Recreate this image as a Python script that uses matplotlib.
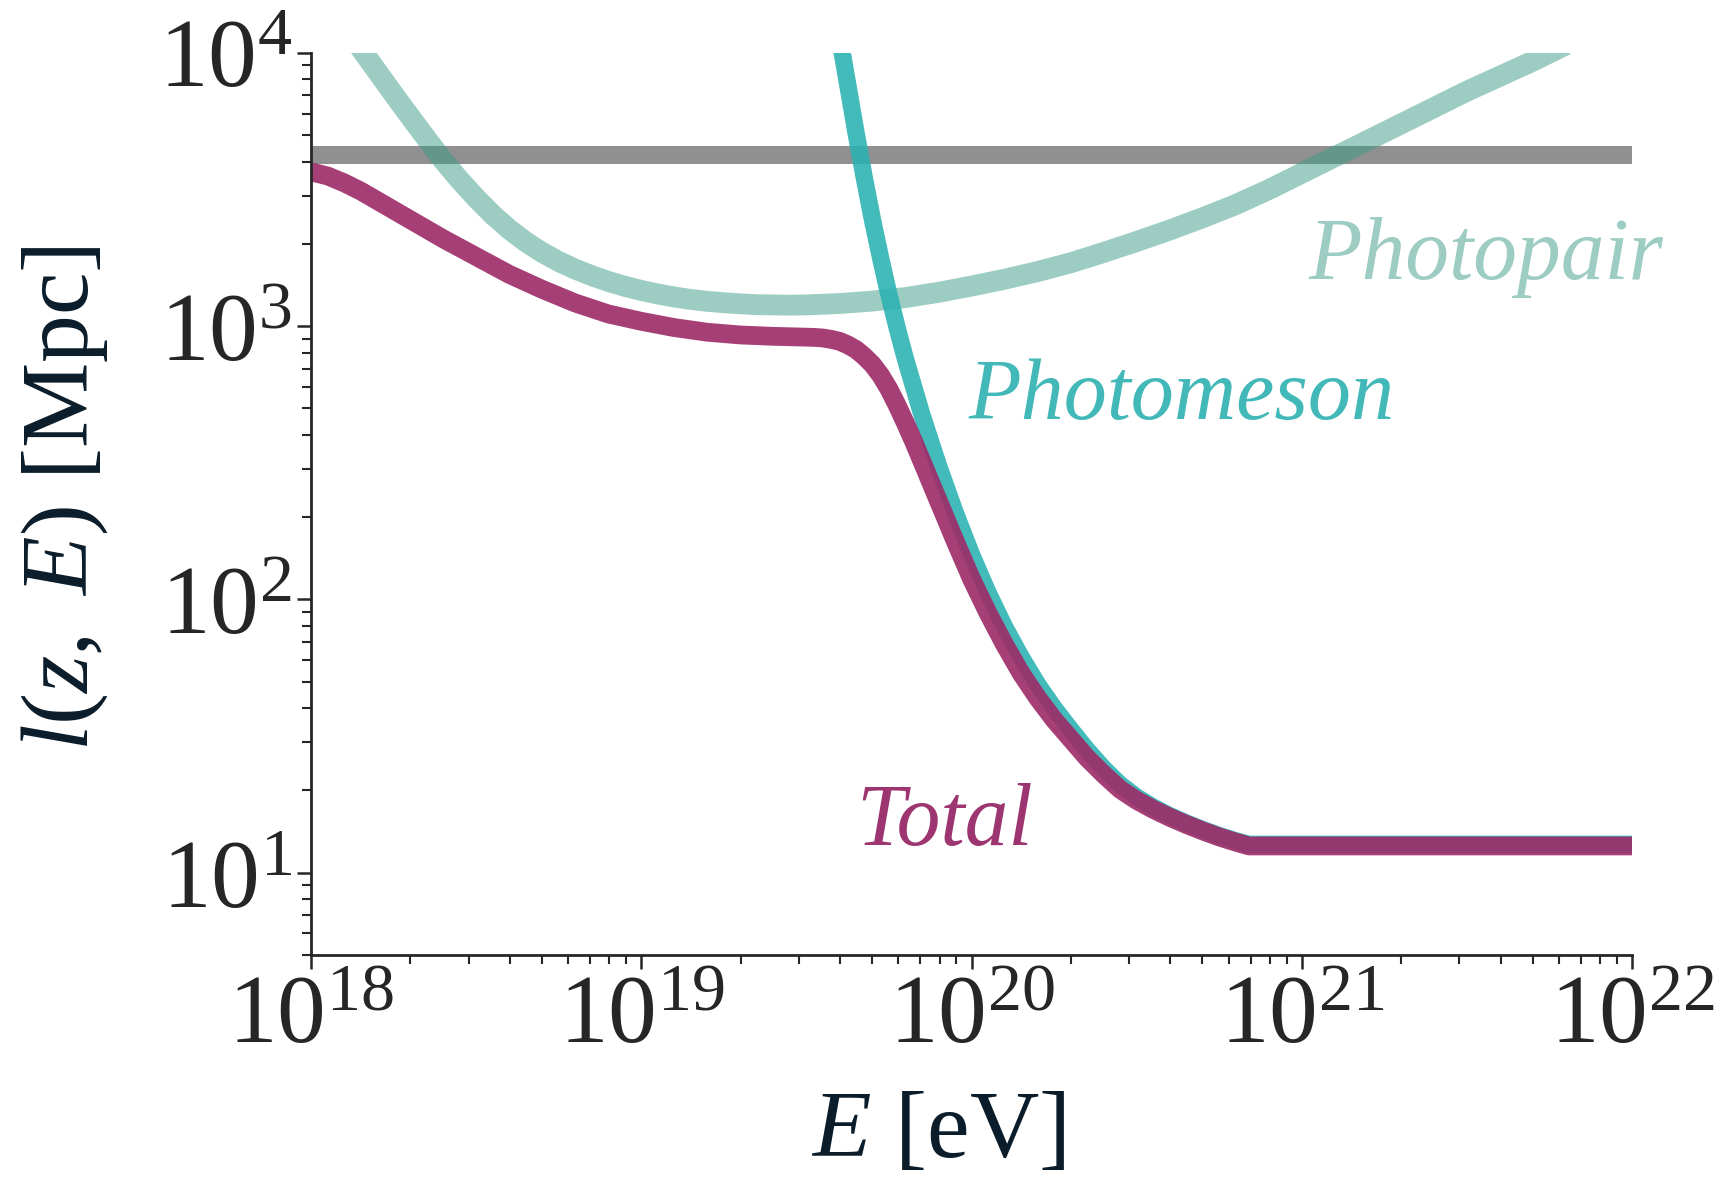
import numpy as np
import matplotlib
matplotlib.use("Agg")
import matplotlib.pyplot as plt
from matplotlib.ticker import LogLocator, NullFormatter

plt.rcParams['font.family'] = ['Liberation Serif', 'DejaVu Serif']
plt.rcParams['mathtext.fontset'] = 'custom'
plt.rcParams['mathtext.rm'] = 'Liberation Serif'
plt.rcParams['mathtext.it'] = 'Liberation Serif:italic'
plt.rcParams['mathtext.bf'] = 'Liberation Serif:bold'

# energy loss lengths, log10(E/eV) vs log10(l/Mpc)
total_logE = [18.00, 18.05, 18.10, 18.15, 18.20, 18.30, 18.40, 18.50, 18.60, 18.70,
              18.80, 18.90, 19.00, 19.10, 19.20, 19.30, 19.40, 19.50, 19.525, 19.55,
              19.575, 19.60, 19.625, 19.65, 19.675, 19.70, 19.725, 19.75, 19.775, 19.80,
              19.825, 19.85, 19.90, 19.95, 20.00, 20.05, 20.10, 20.15, 20.20, 20.25,
              20.30, 20.35, 20.40, 20.45, 20.50, 20.55, 20.60, 20.65, 20.70, 20.75,
              20.80, 20.84, 22.00]
total_logl = [3.565, 3.55, 3.525, 3.495, 3.46, 3.39, 3.32, 3.255, 3.19, 3.135,
              3.085, 3.045, 3.018, 2.995, 2.978, 2.968, 2.963, 2.960, 2.959, 2.957,
              2.952, 2.945, 2.932, 2.915, 2.89, 2.86, 2.82, 2.77, 2.71, 2.645,
              2.577, 2.505, 2.36, 2.215, 2.075, 1.95, 1.835, 1.73, 1.64, 1.56,
              1.49, 1.42, 1.36, 1.305, 1.265, 1.232, 1.203, 1.177, 1.153, 1.131,
              1.112, 1.098, 1.098]

meson_logE = [19.58, 19.60, 19.625, 19.65, 19.675, 19.70, 19.725, 19.75, 19.775, 19.80,
              19.85, 19.90, 19.95, 20.00, 20.05, 20.10, 20.15, 20.20, 20.25, 20.30,
              20.35, 20.40, 20.45, 20.50, 20.55, 20.60, 20.65, 20.70, 20.75, 20.80,
              20.84, 22.00]
meson_logl = [4.20, 4.06, 3.885, 3.71, 3.545, 3.39, 3.248, 3.115, 2.993, 2.88,
              2.675, 2.49, 2.32, 2.165, 2.025, 1.90, 1.79, 1.69, 1.603, 1.525,
              1.45, 1.382, 1.323, 1.277, 1.24, 1.209, 1.182, 1.158, 1.136, 1.117,
              1.104, 1.104]

pair_logE = [18.10, 18.15, 18.20, 18.25, 18.30, 18.35, 18.40, 18.45, 18.50, 18.55,
             18.60, 18.65, 18.70, 18.75, 18.80, 18.85, 18.90, 18.95, 19.00, 19.05,
             19.10, 19.15, 19.20, 19.25, 19.30, 19.35, 19.40, 19.45, 19.50, 19.60,
             19.70, 19.80, 19.90, 20.00, 20.10, 20.20, 20.30, 20.40, 20.50, 20.60,
             20.70, 20.80, 20.90, 21.00, 21.10, 21.20, 21.30, 21.40, 21.50, 21.60,
             21.70, 21.80]
pair_logl = [4.10, 4.017, 3.933, 3.849, 3.767, 3.686, 3.607, 3.535, 3.469, 3.408,
             3.355, 3.309, 3.270, 3.237, 3.209, 3.185, 3.164, 3.146, 3.131, 3.118,
             3.107, 3.098, 3.091, 3.086, 3.082, 3.079, 3.078, 3.077, 3.078, 3.083,
             3.092, 3.105, 3.124, 3.147, 3.172, 3.20, 3.232, 3.27, 3.31, 3.352,
             3.397, 3.445, 3.50, 3.56, 3.62, 3.68, 3.74, 3.80, 3.86, 3.915,
             3.97, 4.03]

horizon_E = [1e18, 1e22]
horizon_l = [4250, 4250]

x_major = [1e18, 1e19, 1e20, 1e21, 1e22]
y_major = [1e1, 1e2, 1e3, 1e4]

E_tot, l_tot = 10**np.array(total_logE), 10**np.array(total_logl)
E_mes, l_mes = 10**np.array(meson_logE), 10**np.array(meson_logl)
E_pair, l_pair = 10**np.array(pair_logE), 10**np.array(pair_logl)

fig = plt.figure(figsize=(17.25, 11.77), dpi=100)
ax = fig.add_axes([0.1803, 0.1886, 0.7658, 0.7664])

kw = dict(solid_capstyle='butt', solid_joinstyle='round')
ax.plot(horizon_E, horizon_l, color='#8f908f', lw=13, **kw)
ax.plot(E_pair, l_pair, color='#3c9c87', alpha=0.5, lw=15, **kw)
ax.plot(E_mes, l_mes, color='#2ab2b2', alpha=0.88, lw=12.5, **kw)
ax.plot(E_tot, l_tot, color='#9e2a68', alpha=0.9, lw=13.5, **kw)

ax.set_xscale('log')
ax.set_yscale('log')
ax.set_xlim(1e18, 1e22)
ax.set_ylim(5, 1e4)
ax.set_xticks(x_major)
ax.set_yticks(y_major)
for axis in (ax.xaxis, ax.yaxis):
    axis.set_minor_locator(LogLocator(base=10, subs=np.arange(2, 10), numticks=20))
    axis.set_minor_formatter(NullFormatter())

ax.text(10**21.02, 10**3.172, 'Photopair', style='italic', fontsize=63,
        color='#9dccc2', ha='left', va='baseline')
ax.text(10**19.99, 10**2.66, 'Photomeson', style='italic', fontsize=62,
        color='#42b8b8', ha='left', va='baseline')
ax.text(10**19.652, 10**1.102, 'Total', style='italic', fontsize=63,
        color='#9c3570', ha='left', va='baseline')

for s in ['top', 'right']:
    ax.spines[s].set_visible(False)
for s in ['left', 'bottom']:
    ax.spines[s].set_linewidth(2)
    ax.spines[s].set_color('#262626')

ax.tick_params(which='major', length=10, width=1.8, colors='#262626',
               labelsize=70, pad=4)
ax.tick_params(which='minor', length=6.5, width=1.5, colors='#262626')

ax.set_xlabel(r'$E$ [eV]', fontsize=69, color='#0b1d2a')
ax.set_ylabel(r'$l(z,\ E)$ [Mpc]', fontsize=69, color='#0b1d2a')
ax.xaxis.set_label_coords(0.475, -0.150)
ax.yaxis.set_label_coords(-0.152, 0.507)

fig.savefig('out.png', dpi=100)
